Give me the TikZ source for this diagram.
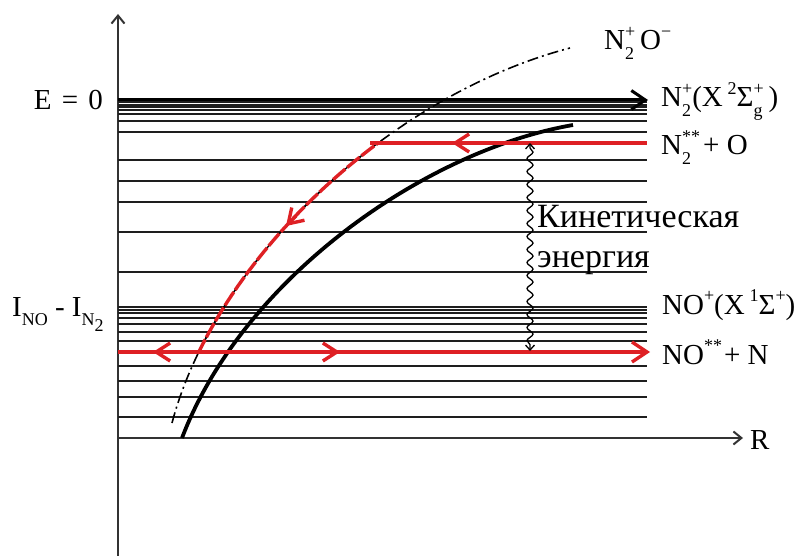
\documentclass[tikz,border=0pt]{standalone}
\usepackage{fontspec}
\setmainfont{Liberation Serif}
\usetikzlibrary{arrows.meta,decorations.pathmorphing}
\definecolor{myred}{RGB}{222,32,36}
\definecolor{lvl}{RGB}{30,30,30}
\newdimen\sswd
\newcommand\smsz{\fontsize{18}{18}\selectfont}
\newcommand\supsub[3][0.42em]{\setbox0=\hbox{\smsz #2}\setbox2=\hbox{\smsz #3}%
  \ifdim\wd0>\wd2 \sswd=\wd0 \else \sswd=\wd2 \fi
  \makebox[\sswd][l]{\rlap{\raisebox{#1}{\box0}}\raisebox{-0.32em}{\box2}}}
\newcommand\sps[1]{\raisebox{0.42em}{\smsz #1}}
\newcommand\sbs[1]{\raisebox{-0.32em}{\smsz #1}}
\begin{document}
\begin{tikzpicture}[x=1pt,y=-1pt,
  level/.style={line width=2pt, draw=lvl},
  axisline/.style={line width=2pt, draw=black!80},
  redline/.style={line width=3.4pt, draw=myred},
  barb/.style={-{Straight Barb[length=14pt,width=18pt]}},
  lbl/.style={font=\fontsize{29}{32}\selectfont, inner sep=0pt, anchor=base west},
  rulbl/.style={font=\fontsize{34}{36}\selectfont, inner sep=0pt, anchor=base west}]
\useasboundingbox (0,0) rectangle (805,556);
% axes
\coordinate (o) at (118,438);
\coordinate (ytop) at (118,14);
\coordinate (ybot) at (118,556);
\coordinate (xend) at (743,438);
\draw[axisline,-{Straight Barb[length=8pt,width=13pt]}] (ybot) -- (ytop);
\draw[axisline,-{Straight Barb[length=8pt,width=13pt]}] (o) -- (xend);
% levels
\foreach \yy in {102,105,107,110,114,121,132,160,181,202,232,272,307,310,313,318,324,332,341,366,381,397,417}
  \draw[level] (118,\yy) -- (647,\yy);
\coordinate (etop0) at (118,100);
\coordinate (etop1) at (648,100);
\draw[line width=3pt, -{Straight Barb[length=14pt,width=19pt]}] (etop0) -- (etop1);
% dash-dot curve N2+O-
\coordinate (d0) at (172,423);
\coordinate (d1) at (215,260);
\coordinate (d2) at (390,95);
\coordinate (d3) at (570,48);
\draw[line width=1.6pt, dash pattern=on 11pt off 4pt on 2pt off 4pt]
  (d0) .. controls (d1) and (d2) .. (d3);
% red dissociation path along it
\begin{scope}
\clip (0,143) rectangle (805,352);
\draw[line width=1.4pt] (d0) .. controls (d1) and (d2) .. (d3);
\draw[redline, dash pattern=on 16pt off 2.5pt] (d0) .. controls (d1) and (d2) .. (d3);
\end{scope}
\coordinate (ra0) at (296,216);
\coordinate (ra1) at (286,226);
\draw[redline, barb] (ra0) -- (ra1);
% black potential curve
\coordinate (c0) at (182,438);
\coordinate (c1) at (242,280);
\coordinate (c2) at (423,151);
\coordinate (c3) at (573,125);
\draw[line width=3.8pt] (c0) .. controls (c1) and (c2) .. (c3);
% red levels
\coordinate (r1a) at (370,143);
\coordinate (r1b) at (647,143);
\draw[redline] (r1a) -- (r1b);
\coordinate (r1m) at (470,143);
\coordinate (r1t) at (452,143);
\draw[redline, barb] (r1m) -- (r1t);
\coordinate (r2a) at (118,352);
\coordinate (r2b) at (650,352);
\draw[redline, -{Straight Barb[length=15pt,width=20pt]}] (r2a) -- (r2b);
\coordinate (r2l0) at (170,352);
\coordinate (r2l1) at (153,352);
\draw[redline, barb] (r2l0) -- (r2l1);
\coordinate (r2r0) at (320,352);
\coordinate (r2r1) at (340,352);
\draw[redline, barb] (r2r0) -- (r2r1);
% kinetic energy wavy arrow
\coordinate (k0) at (530,143);
\coordinate (k1) at (530,351);
\draw[line width=1.3pt, {Straight Barb[length=5pt,width=9pt]}-{Straight Barb[length=5pt,width=9pt]},
  decoration={snake, amplitude=3pt, segment length=13pt, pre length=5pt, post length=5pt},
  decorate] (k0) -- (k1);
% labels
\node[lbl, anchor=base east] (e0) at (103,110) {E\hspace{0.35em}=\hspace{0.35em}0};
\node[lbl] (ino) at (12,316) {I\sbs{NO} - I\sbs{N\sbs{2}}};
\node[lbl] (n2o) at (604,50) {N\supsub{+}{2}\,O\sps{−}};
\node[lbl] (n2x) at (661,107) {N\supsub{+}{2}(X\,\sps{2}Σ\supsub{+}{g}\,)};
\node[lbl] (n2o2) at (661,155) {N\supsub{**}{2}\hspace{3pt}+ O};
\node[rulbl] (kin) at (537,227) {Кинетическая};
\node[rulbl] (en) at (537,267) {энергия};
\node[lbl] (nox) at (662,314) {NO\sps{+}(X\,\sps{1}Σ\sps{+})};
\node[lbl] (non) at (662,364) {NO\sps{**}\hspace{2pt}+ N};
\node[lbl] (r) at (750,449) {R};
\end{tikzpicture}
\end{document}
